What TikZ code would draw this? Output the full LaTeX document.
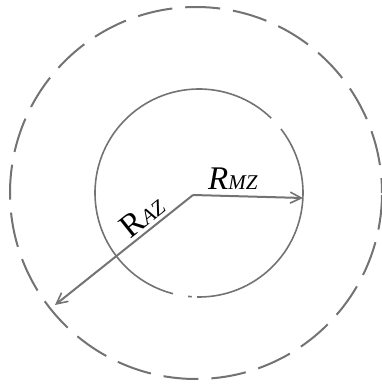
\documentclass[tikz,border=0pt]{standalone}
\usepackage{fontspec}
\setmainfont{Liberation Serif}
\usetikzlibrary{arrows.meta}
\begin{document}
\begin{tikzpicture}[x=1pt,y=1pt,
  ring/.style={draw=black!55, line width=1.6pt},
  dashring/.style={draw=black!55, line width=2pt, dash pattern=on 35pt off 13pt, dash phase=20pt},
  radius arrow/.style={draw=black!55, line width=2pt, -{Straight Barb[length=11pt,width=11pt,line width=1.6pt]}},
  lbl/.style={inner sep=0pt, text=black}]
\useasboundingbox (0,0) rectangle (382,384);
% centres
\coordinate (o) at (199,191);
\coordinate (O) at (196,191);
\coordinate (c) at (193,189);
% inner circle (solid with small gaps)
\draw[ring] (o) ++(-91:104) arc[start angle=-91, end angle=38, radius=104];
\draw[ring] (o) ++(46:104) arc[start angle=46, end angle=255.5, radius=104];
\draw[ring] (o) ++(-96:104) arc[start angle=-96, end angle=-94, radius=104];
% outer dashed circle
\draw[dashring] (O) circle[radius=186];
% radius arrows
\coordinate (mz) at (303,186);
\coordinate (az) at (55,79);
\draw[radius arrow] (c) -- (mz);
\draw[radius arrow] (c) -- (az);
% labels
\node[lbl] (lmz) at (233,205) {{\fontsize{33}{33}\selectfont\textit{R}}{\fontsize{21}{21}\selectfont\textit{MZ}}};
\node[lbl, rotate=38.6] (laz) at (142,168) {{\fontsize{33}{33}\selectfont R}{\fontsize{21}{21}\selectfont\textit{AZ}}};
\end{tikzpicture}
\end{document}
